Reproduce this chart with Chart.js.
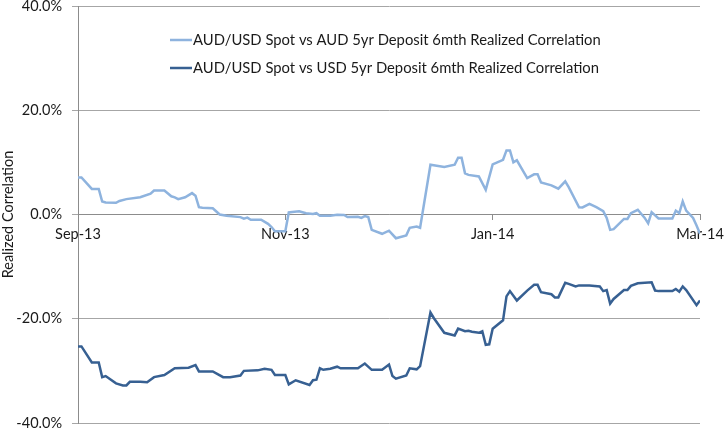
<!DOCTYPE html>
<html>
<head>
<meta charset="utf-8">
<script src="https://cdn.jsdelivr.net/npm/chart.js@4/dist/chart.umd.min.js"></script>
<style>
  html, body { margin: 0; padding: 0; background: #ffffff; }
  #wrap { width: 725px; height: 429px; }
</style>
</head>
<body>
<div id="wrap"><canvas id="c" width="725" height="429"></canvas></div>
<script>
// Tick labels and their positions (day index along the x axis)
const tickLabels = ["Sep-13", "Nov-13", "Jan-14", "Mar-14"];
const tickDays = [0, 60, 120, 180];

const seriesNames = [
  "AUD/USD Spot vs AUD 5yr Deposit 6mth Realized Correlation",
  "AUD/USD Spot vs USD 5yr Deposit 6mth Realized Correlation"
];

// Series 1 (light): AUD 5yr deposit correlation, % values
const lightDays = [0,1,4,6,7,8,11,12,14,18,21,22,25,27,28,29,31,33,34,35,36,39,41,43,47,48,49,50,53,55,56,57,60,61,62,64,66,68,69,70,73,75,77,78,81,82,83,84,85,88,90,92,95,96,98,99,102,106,109,110,111,112,113,116,118,120,123,124,125,126,127,130,132,133,134,137,139,141,142,145,146,148,150,152,153,154,155,158,159,160,162,164,165,166,168,172,173,174,175,176,178,179,180];
const lightValues = [7.1,7.1,4.9,4.9,2.5,2.3,2.25,2.6,2.95,3.3,4.0,4.6,4.6,3.5,3.3,2.95,3.3,4.1,3.6,1.4,1.3,1.2,0.0,-0.25,-0.5,-0.8,-0.6,-1.0,-1.0,-1.8,-2.4,-3.2,-3.2,0.4,0.5,0.6,0.25,0.1,0.25,-0.25,-0.25,-0.05,-0.1,-0.5,-0.45,-0.65,-0.3,-0.5,-2.95,-3.7,-3.1,-4.55,-4.0,-2.55,-2.3,-2.55,9.55,9.1,9.55,10.9,10.9,7.9,7.6,7.3,4.75,9.6,10.5,12.3,12.3,10.0,10.4,7.0,7.7,7.7,6.15,5.6,4.95,6.35,5.25,1.4,1.35,2.05,1.4,0.65,-0.65,-2.95,-2.8,-0.85,-0.85,0.25,0.9,-0.65,-1.7,0.45,-0.75,-0.75,0.75,0.25,2.5,0.75,-0.65,-2.1,-3.7];

// Series 2 (dark): USD 5yr deposit correlation, % values
const darkDays = [0,1,4,6,7,8,11,13,14,15,18,20,22,25,28,32,34,35,39,42,44,47,48,52,54,56,57,60,61,63,67,68,69,70,71,73,75,76,81,83,85,88,90,91,92,95,96,98,99,102,103,106,109,110,112,113,114,116,117,118,119,120,123,124,125,127,130,132,133,134,137,138,139,141,142,144,145,148,151,152,153,154,155,158,159,160,162,166,167,168,172,173,174,175,176,179,180];
const darkValues = [-25.3,-25.3,-28.4,-28.4,-31.2,-31.0,-32.4,-32.8,-32.8,-32.1,-32.1,-32.2,-31.2,-30.8,-29.5,-29.4,-28.9,-30.1,-30.1,-31.2,-31.2,-30.9,-30.0,-29.9,-29.6,-29.8,-30.8,-30.8,-32.6,-31.8,-32.7,-31.8,-31.7,-29.5,-29.8,-29.6,-29.2,-29.5,-29.5,-28.6,-29.8,-29.8,-28.8,-31.0,-31.5,-30.9,-29.5,-29.7,-29.1,-18.8,-19.9,-22.7,-23.2,-21.9,-22.4,-22.3,-22.5,-22.7,-22.4,-25.0,-24.9,-21.9,-20.3,-15.7,-14.7,-16.5,-14.6,-13.5,-13.5,-14.9,-15.3,-15.9,-15.9,-13.1,-13.3,-13.8,-13.6,-13.6,-13.8,-14.7,-14.5,-17.1,-16.2,-14.5,-14.5,-13.7,-13.2,-13.0,-14.6,-14.7,-14.7,-14.3,-14.8,-13.8,-14.5,-17.4,-16.5];

const yMin = -40, yMax = 40, yStep = 20;

const LIGHT = '#8EB3DE';
const DARK = '#376092';
const GRID = '#A6A6A6';
const AXIS = '#8C8C8C';
const FONT = 'Lato, "Open Sans", "Liberation Sans", sans-serif';

const toPoints = (xs, ys) => xs.map((x, i) => ({ x: x, y: ys[i] }));

const insideLegend = {
  id: 'insideLegend',
  afterDraw(chart) {
    const ctx = chart.ctx;
    const x0 = 170, x1 = 192, rows = [40, 68];
    ctx.save();
    ctx.font = '14.8px ' + FONT;
    ctx.textBaseline = 'middle';
    ctx.fillStyle = '#1a1a1a';
    chart.data.datasets.forEach((ds, i) => {
      const y = rows[i];
      ctx.strokeStyle = ds.borderColor;
      ctx.lineWidth = ds.borderWidth;
      ctx.beginPath();
      ctx.moveTo(x0, y);
      ctx.lineTo(x1, y);
      ctx.stroke();
      ctx.fillText(ds.label, x1 + 1, y + 0.5);
    });
    ctx.restore();
  }
};

new Chart(document.getElementById('c'), {
  type: 'line',
  data: {
    datasets: [
      { label: seriesNames[0], data: toPoints(lightDays, lightValues), borderColor: LIGHT, backgroundColor: LIGHT, borderWidth: 2.5, pointRadius: 0, tension: 0 },
      { label: seriesNames[1], data: toPoints(darkDays, darkValues), borderColor: DARK, backgroundColor: DARK, borderWidth: 2.5, pointRadius: 0, tension: 0 }
    ]
  },
  options: {
    responsive: false,
    animation: false,
    devicePixelRatio: 1,
    layout: { padding: { left: 0, right: 25, top: 6, bottom: 6 } },
    plugins: { legend: { display: false }, tooltip: { enabled: false } },
    scales: {
      x: {
        type: 'linear',
        position: { y: 0 },
        min: tickDays[0],
        max: tickDays[tickDays.length - 1],
        afterBuildTicks: (scale) => { scale.ticks = tickDays.map(v => ({ value: v })); },
        afterFit: (scale) => { scale.paddingLeft = 0; scale.paddingRight = 0; },
        ticks: {
          autoSkip: false,
          maxRotation: 0,
          padding: 6,
          color: '#1a1a1a',
          font: { family: FONT, size: 14.5 },
          callback: (v, i) => tickLabels[i]
        },
        grid: { drawOnChartArea: false, drawTicks: true, tickLength: 5, color: AXIS },
        border: { display: true, color: AXIS, width: 1 }
      },
      y: {
        min: yMin,
        max: yMax,
        afterFit: (scale) => { scale.width = 78; scale.paddingTop = 0; scale.paddingBottom = 0; },
        ticks: {
          stepSize: yStep,
          padding: 10,
          color: '#1a1a1a',
          font: { family: FONT, size: 14.5 },
          callback: (v) => v.toFixed(1) + '%'
        },
        grid: { color: GRID, tickLength: 6, lineWidth: 1 },
        border: { display: true, color: AXIS, width: 1 },
        title: {
          display: true,
          text: 'Realized Correlation',
          color: '#1a1a1a',
          font: { family: FONT, size: 14.5 },
          padding: { top: 0, bottom: 0 }
        }
      }
    }
  },
  plugins: [insideLegend]
});
</script>
</body>
</html>
